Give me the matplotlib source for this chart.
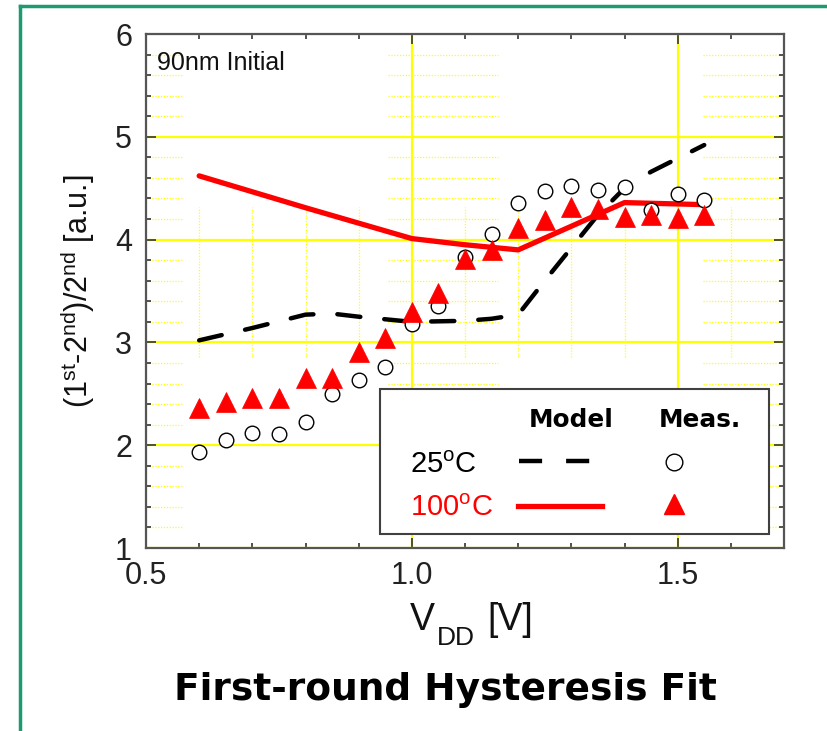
import numpy as np
import matplotlib
matplotlib.use("Agg")
import matplotlib.pyplot as plt
from matplotlib.lines import Line2D
from matplotlib.patches import Rectangle
from matplotlib.ticker import MultipleLocator

plt.rcParams['font.family'] = ['Liberation Sans', 'DejaVu Sans']
plt.rcParams['mathtext.fontset'] = 'custom'
plt.rcParams['mathtext.rm'] = 'Liberation Sans'

# measured points (VDD sweep)
vdd_meas = [0.6, 0.65, 0.7, 0.75, 0.8, 0.85, 0.9, 0.95, 1.0, 1.05,
            1.1, 1.15, 1.2, 1.25, 1.3, 1.35, 1.4, 1.45, 1.5, 1.55]
meas_25 = [1.93, 2.05, 2.12, 2.11, 2.23, 2.50, 2.63, 2.76, 3.18, 3.35,
           3.83, 4.05, 4.36, 4.47, 4.52, 4.48, 4.51, 4.29, 4.44, 4.39]
meas_100 = [2.36, 2.42, 2.46, 2.46, 2.65, 2.65, 2.91, 3.04, 3.30, 3.48,
            3.81, 3.90, 4.11, 4.19, 4.32, 4.30, 4.22, 4.24, 4.21, 4.24]

# model curves
vdd_model_25 = [0.6, 0.7, 0.8, 0.85, 0.9, 1.0, 1.1, 1.15, 1.2, 1.25,
                1.3, 1.35, 1.4, 1.45, 1.5, 1.55]
model_25 = [3.02, 3.14, 3.27, 3.28, 3.25, 3.20, 3.21, 3.23, 3.27, 3.60,
            3.92, 4.24, 4.50, 4.66, 4.79, 4.92]
vdd_model_100 = [0.6, 0.8, 1.0, 1.1, 1.2, 1.4, 1.55]
model_100 = [4.62, 4.31, 4.01, 3.95, 3.90, 4.36, 4.34]

W, H = 827, 731
fig = plt.figure(figsize=(W / 100, H / 100), dpi=100)
ax = fig.add_axes([146 / W, 1 - 548 / H, (784 - 146) / W, (548 - 34) / H])

yellow = '#FFFF00'
frame = '#555555'

# major grid
ax.grid(which='major', color=yellow, lw=1.6, zorder=0)
ax.set_axisbelow(True)

# minor dotted grid pieces (only partly visible in the original)
y_minor = [v for v in np.arange(1.2, 6.0, 0.2) if abs(v - round(v)) > 0.05]
for x0, x1 in [(0.505, 0.57), (0.955, 1.162), (1.547, 1.695)]:
    ax.hlines(y_minor, x0, x1, colors=yellow, lw=0.9, linestyles=(0, (1, 1.3)), zorder=0.5)
x_minor = [0.6, 0.7, 0.8, 0.9, 1.1, 1.2, 1.3, 1.4, 1.6]
ax.vlines(x_minor, 2.86, 4.32, colors=yellow, lw=0.9, linestyles=(0, (1, 1.3)), zorder=0.5)

# model lines
ax.plot(vdd_model_25, model_25, color='black', lw=3.2,
        linestyle=(0, (5.2, 5.4)), dash_capstyle='round', zorder=3)
ax.plot(vdd_model_100, model_100, color='#FF0000', lw=3.8,
        solid_capstyle='round', zorder=3)

# measurements
ax.plot(vdd_meas, meas_25, linestyle='none', marker='o', ms=10.5,
        mfc='white', mec='black', mew=1.0, zorder=4)
ax.plot(vdd_meas, meas_100, linestyle='none', marker='^', ms=14,
        mfc='#FF0000', mec='#FF0000', mew=0.5, zorder=4.5)

ax.set_xlim(0.5, 1.7)
ax.set_ylim(1, 6)
ax.xaxis.set_major_locator(MultipleLocator(0.5))
ax.xaxis.set_minor_locator(MultipleLocator(0.1))
ax.yaxis.set_major_locator(MultipleLocator(1))
ax.yaxis.set_minor_locator(MultipleLocator(0.2))
ax.set_xticks([0.5, 1.0, 1.5])
ax.set_xticklabels(['0.5', '1.0', '1.5'])
ax.tick_params(which='both', direction='in', top=True, right=True,
               color='#333333', width=1.2, labelsize=22, labelcolor='#222222')
ax.tick_params(which='major', length=7)
ax.tick_params(which='minor', length=3.5)
ax.tick_params(axis='y', pad=10)
ax.tick_params(axis='x', pad=9)
for s in ax.spines.values():
    s.set_color(frame)
    s.set_linewidth(1.6)

ax.text(0.0172, 0.930, '90nm Initial', transform=ax.transAxes,
        fontsize=18, ha='left', va='baseline', color='#111111')

# legend box drawn by hand (two-column table layout)
def axc(px, py):
    return (px - 146) / 638, (548 - py) / 514

x0, y0 = axc(380, 534)
x1, y1 = axc(769, 389)
ax.add_patch(Rectangle((x0, y0), x1 - x0, y1 - y0, transform=ax.transAxes,
                       facecolor='white', edgecolor='#404040', lw=1.5, zorder=6))
hdr = dict(transform=ax.transAxes, fontsize=17.8, fontweight='bold',
           family='DejaVu Sans', ha='center', va='baseline', zorder=7)
ax.text(*axc(571, 426.5), 'Model', **hdr)
ax.text(*axc(700, 426.5), 'Meas.', **hdr)
ax.text(*axc(410, 473), r'25$^{\mathregular{o}}$C', transform=ax.transAxes,
        fontsize=21, ha='left', va='baseline', color='black', zorder=7)
ax.text(*axc(410, 516.5), r'100$^{\mathregular{o}}$C', transform=ax.transAxes,
        fontsize=21, ha='left', va='baseline', color='#FF0000', zorder=7)
lx0, ly = axc(519, 461)
lx1, _ = axc(590, 461)
ax.add_line(Line2D([lx0, lx1], [ly, ly], transform=ax.transAxes, color='black',
                   lw=3.2, linestyle=(0, (5.2, 5.4)), zorder=7))
rx0, ry = axc(518, 506)
rx1, _ = axc(602, 506)
ax.add_line(Line2D([rx0, rx1], [ry, ry], transform=ax.transAxes, color='#FF0000',
                   lw=3.8, zorder=7))
cx, cy = axc(674, 462)
ax.add_line(Line2D([cx], [cy], transform=ax.transAxes, marker='o', ms=12,
                   mfc='white', mec='black', mew=1.0, zorder=7))
tx, ty = axc(674, 504)
ax.add_line(Line2D([tx], [ty], transform=ax.transAxes, marker='^', ms=15,
                   mfc='#FF0000', mec='#FF0000', zorder=7))

# axis labels
fig.text(78 / W, 1 - 291 / H,
         r'(1$^{\mathregular{st}}$-2$^{\mathregular{nd}}$)/2$^{\mathregular{nd}}$ [a.u.]',
         rotation=90, ha='center', va='center', fontsize=22, color='#111111')
# V_DD with a deep subscript, as in the original
fig.text(410 / W, 1 - 630 / H, 'V', ha='left', va='baseline', fontsize=27, color='#111111')
fig.text(437 / W, 1 - 645 / H, 'DD', ha='left', va='baseline', fontsize=19, color='#111111')
fig.text(487 / W, 1 - 630 / H, '[V]', ha='left', va='baseline', fontsize=27, color='#111111')

fig.text(445 / W, 1 - 700 / H, 'First-round Hysteresis Fit',
         ha='center', va='baseline', fontsize=27, fontweight='bold',
         family='DejaVu Sans', color='black')

# green slide frame
green = '#1B9B6E'
fig.add_artist(Line2D([20 / W, 20 / W], [0, 1 - 6 / H], transform=fig.transFigure,
                      color=green, lw=2.5))
fig.add_artist(Line2D([20 / W, 1], [1 - 6 / H, 1 - 6 / H], transform=fig.transFigure,
                      color=green, lw=2.5))

fig.savefig('out.png', dpi=100)
